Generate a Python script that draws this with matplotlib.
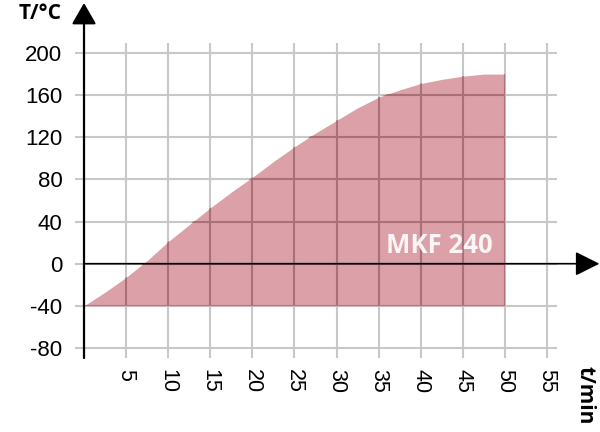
import matplotlib
matplotlib.use("Agg")
import matplotlib.pyplot as plt

# Data
t_min = [0, 2.5, 5, 7.5, 10, 12.5, 15, 17.5, 20, 22.5, 25, 27.5, 30, 32.5, 35,
         37.5, 40, 42.5, 45, 47.5, 50]
temp_c = [-40, -27, -13, 3, 21, 37, 53, 68, 82, 97, 111, 124, 136, 148, 158,
          165, 171, 175, 178, 180, 180]
base_temp = -40
x_ticks = [5, 10, 15, 20, 25, 30, 35, 40, 45, 50, 55]
y_ticks = [-80, -40, 0, 40, 80, 120, 160, 200]
x_tick_labels = [str(v) for v in x_ticks]
y_tick_labels = [str(v) for v in y_ticks]
series_label = "MKF 240"

W, H = 600, 432
fig = plt.figure(figsize=(6, 4.32), dpi=100)
ax = fig.add_axes([75 / W, (432 - 358) / H, (557 - 75) / W, (358 - 43) / H])
ax.set_xlim(-1.07, 56.18)
ax.set_ylim(-89.5, 209.5)

grid_col = "#c8c8c8"
dark_grid = "#a9707a"
fill_col = "#dca0a8"

ax.set_xticks(x_ticks)
ax.set_yticks(y_ticks)
ax.set_xticklabels(x_tick_labels, rotation=-90, fontsize=15.5,
                   family="Liberation Sans", va="top", ha="center")
ax.set_yticklabels(y_tick_labels, fontsize=16, family="Liberation Sans")
ax.tick_params(length=0, pad=9)
ax.tick_params(axis="x", pad=8)
ax.grid(True, color=grid_col, lw=1.5, zorder=1)
ax.set_axisbelow(True)
for s in ax.spines.values():
    s.set_visible(False)

poly = ax.fill_between(t_min, base_temp, temp_c, color=fill_col, lw=0, zorder=2)
clip = poly.get_paths()[0]

vl = ax.vlines(x_ticks, -89.5, 209.5, colors=dark_grid, lw=1.5, zorder=3)
hl = ax.hlines(y_ticks, -1.07, 56.18, colors=dark_grid, lw=1.5, zorder=3)
vl.set_clip_path(clip, ax.transData)
hl.set_clip_path(clip, ax.transData)

# axes with arrows
ax.annotate("", xy=(0.999, 0), xycoords=("figure fraction", "data"),
            xytext=(0, 0), textcoords="data",
            arrowprops=dict(arrowstyle="-|>,head_length=15,head_width=7.5",
                            mutation_scale=1, color="black", lw=1.2,
                            shrinkA=0, shrinkB=0),
            annotation_clip=False, zorder=5)
ax.annotate("", xy=(0, 1 - 3 / H), xycoords=("data", "figure fraction"),
            xytext=(0, 0), textcoords=("data", "axes fraction"),
            arrowprops=dict(arrowstyle="-|>,head_length=13,head_width=7.5",
                            mutation_scale=1, color="black", lw=1.6,
                            shrinkA=0, shrinkB=0),
            annotation_clip=False, zorder=5)

ax.text(42.2, 10, series_label, ha="center", va="baseline", fontsize=18.5,
        fontweight="bold", family="Open Sans", color="#fbf5f5", zorder=6)

fig.text(40.5 / W, 1 - 13.5 / H, "T/°C", ha="center", va="center",
         fontsize=15, fontweight="bold", family="Open Sans")
fig.text(585 / W, 1 - 366 / H, "t/min", ha="center", va="top", rotation=-90,
         fontsize=15, fontweight="bold", family="Open Sans")

fig.savefig("out.png", dpi=100)
